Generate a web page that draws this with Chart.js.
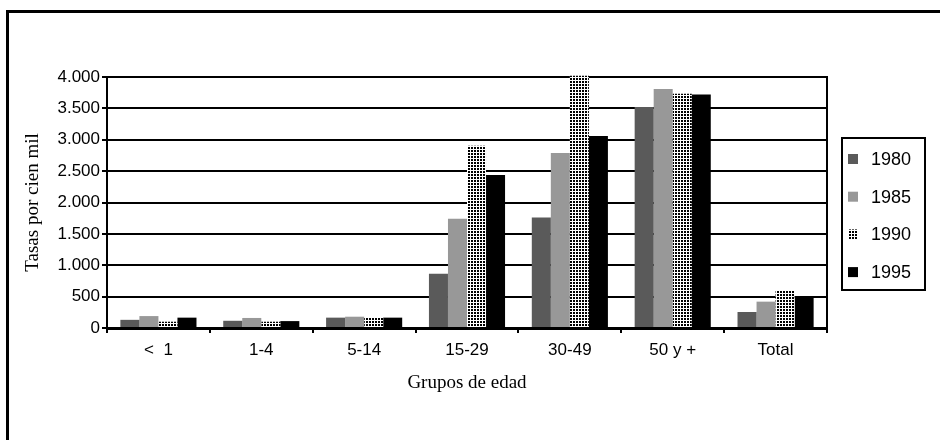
<!DOCTYPE html>
<html>
<head>
<meta charset="utf-8">
<script src="https://cdn.jsdelivr.net/npm/chart.js@4"></script>
<style>
  html, body { margin: 0; padding: 0; background: #fff; }
  #wrap { width: 940px; height: 440px; }
</style>
</head>
<body>
<div id="wrap"><canvas id="c" width="940" height="440"></canvas></div>
<script>
const categories = ["<  1", "1-4", "5-14", "15-29", "30-49", "50 y +", "Total"];
const years = ["1980", "1985", "1990", "1995"];
const rates1980 = [130, 115, 165, 865, 1760, 3520, 255];
const rates1985 = [190, 160, 180, 1740, 2790, 3810, 420];
const rates1990 = [100, 100, 160, 2905, 4020, 3735, 595];
const rates1995 = [165, 110, 165, 2440, 3060, 3720, 505];
const yTicks = [0, 500, 1000, 1500, 2000, 2500, 3000, 3500, 4000];

const canvas = document.getElementById("c");
const ctx = canvas.getContext("2d");

// dotted fill used for the 1990 series
function dotPattern() {
  const p = document.createElement("canvas");
  p.width = 3;
  p.height = 3;
  const pc = p.getContext("2d");
  pc.fillStyle = "#fff";
  pc.fillRect(0, 0, 3, 3);
  pc.fillStyle = "#000";
  pc.fillRect(0, 0, 2, 2);
  return ctx.createPattern(p, "repeat");
}

const fills = ["#5a5a5a", "#989898", dotPattern(), "#000"];
const series = [rates1980, rates1985, rates1990, rates1995];

const fmt = (v) => String(v).replace(/\B(?=(\d{3})+(?!\d))/g, ".");

const framePlugin = {
  id: "frame",
  beforeDraw(chart) {
    const c = chart.ctx;
    c.save();
    c.fillStyle = "#fff";
    c.fillRect(0, 0, chart.width, chart.height);
    c.fillStyle = "#000";
    c.fillRect(6, 10, chart.width - 6, 3);
    c.fillRect(6, 10, 3, chart.height - 10);
    c.restore();
  },
  afterDatasetsDraw(chart) {
    const { ctx: c, chartArea } = chart;
    c.save();
    c.strokeStyle = "#000";
    c.lineWidth = 2;
    c.beginPath();
    c.moveTo(chartArea.right, chartArea.top - 1);
    c.lineTo(chartArea.right, chartArea.bottom);
    c.stroke();
    c.restore();
  },
  afterDraw(chart) {
    // legend box on the right
    const c = chart.ctx;
    const x = 842, y = 138, w = 83, h = 152;
    c.save();
    c.fillStyle = "#fff";
    c.fillRect(x, y, w, h);
    c.strokeStyle = "#000";
    c.lineWidth = 2;
    c.strokeRect(x, y, w, h);
    c.font = "18px 'Liberation Sans', Arial, sans-serif";
    c.textBaseline = "middle";
    chart.data.datasets.forEach((ds, i) => {
      const cy = 159 + i * 37.7;
      c.fillStyle = ds.backgroundColor;
      c.fillRect(848, cy - 5, 10, 10);
      c.fillStyle = "#000";
      c.fillText(ds.label, 871, cy + 1);
    });
    c.restore();
  },
};

new Chart(ctx, {
  type: "bar",
  data: {
    labels: categories,
    datasets: years.map((y, i) => ({
      label: y,
      data: series[i],
      backgroundColor: fills[i],
      borderWidth: 0,
      categoryPercentage: 0.74,
      barPercentage: 1,
      clip: false,
    })),
  },
  options: {
    responsive: false,
    animation: false,
    events: [],
    layout: { padding: { left: 0, right: 113, top: 77, bottom: 0 } },
    plugins: {
      legend: { display: false },
      tooltip: { enabled: false },
    },
    scales: {
      x: {
        afterFit: (scale) => { scale.height = 112; },
        grid: {
          offset: true,
          drawOnChartArea: false,
          color: "#000",
          lineWidth: 2,
          tickLength: 5,
        },
        border: { color: "#000", width: 3 },
        ticks: {
          color: "#000",
          padding: 7,
          font: { family: "'Liberation Sans', Arial, sans-serif", size: 17 },
        },
        title: {
          display: true,
          text: "Grupos de edad",
          color: "#000",
          padding: { top: 0, bottom: 46 },
          font: { family: "'Liberation Serif', 'Times New Roman', serif", size: 19 },
        },
      },
      y: {
        min: 0,
        max: 4000,
        afterFit: (scale) => { scale.width = 107; },
        afterBuildTicks: (scale) => {
          scale.ticks = yTicks.map((v) => ({ value: v }));
        },
        grid: {
          color: "#000",
          lineWidth: 2,
          tickLength: 5,
        },
        border: { color: "#000", width: 2 },
        ticks: {
          color: "#000",
          padding: 2,
          callback: (v) => fmt(v),
          font: { family: "'Liberation Sans', Arial, sans-serif", size: 17 },
        },
        title: {
          display: true,
          text: "Tasas por cien mil",
          color: "#000",
          padding: { top: 22, bottom: 0 },
          font: { family: "'Liberation Serif', 'Times New Roman', serif", size: 19 },
        },
      },
    },
  },
  plugins: [framePlugin],
});
</script>
</body>
</html>
